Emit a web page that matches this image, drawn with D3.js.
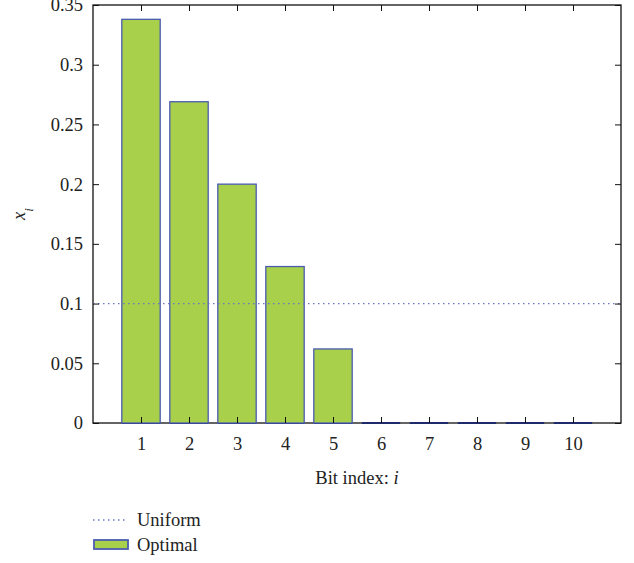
<!DOCTYPE html>
<html><head><meta charset="utf-8">
<script src="https://cdn.jsdelivr.net/npm/d3@7"></script>
<style>body{margin:0;background:#fff}text{font-family:"Liberation Serif","DejaVu Serif",serif;fill:#222}</style>
</head><body>
<script>
const bitIndex = [1,2,3,4,5,6,7,8,9,10];
const optimal = [0.338,0.269,0.2,0.131,0.062,0,0,0,0,0];
const uniform = [0.1];
const yTicks = [0,0.05,0.1,0.15,0.2,0.25,0.3,0.35];
const yTickLabels = ["0","0.05","0.1","0.15","0.2","0.25","0.3","0.35"];

const W=634,H=563;
const svg=d3.select("body").append("svg").attr("width",W).attr("height",H);
const L=93,R=621,T=5,B=423;
const x=d3.scaleLinear().domain([0,11]).range([L,R]);
const y=d3.scaleLinear().domain([0,0.35]).range([B,T]);
const bw=(x(1)-x(0))*0.8;
const fill="#a8d04a", stroke="#4a5cb0";
const fs="18.5px";

// frame
svg.append("rect").attr("x",L).attr("y",T).attr("width",R-L).attr("height",B-T).attr("fill","none").attr("stroke","#111").attr("stroke-width",1.3);

// bars (zero-height bars appear as a dark base line)
svg.selectAll("line.base").data(bitIndex).enter().append("line")
 .attr("x1",(d)=>x(d)-bw/2).attr("x2",(d)=>x(d)+bw/2)
 .attr("y1",y(0)).attr("y2",y(0)).attr("stroke","#1e2a6a").attr("stroke-width",2);
svg.selectAll("rect.bar").data(bitIndex.filter((d,i)=>optimal[i]>0)).enter().append("rect")
 .attr("x",(d)=>x(d)-bw/2).attr("width",bw)
 .attr("y",(d)=>y(optimal[d-1])).attr("height",(d)=>B-y(optimal[d-1]))
 .attr("fill",fill).attr("stroke",stroke).attr("stroke-width",1.3);

// uniform line
svg.append("line").attr("x1",L).attr("x2",R).attr("y1",y(uniform[0])).attr("y2",y(uniform[0]))
 .attr("stroke","#6677c4").attr("stroke-width",1.3).attr("stroke-dasharray","1.5,3.5");

// axes
const yAxisL=d3.axisLeft(y).tickValues(yTicks).tickFormat((d,i)=>yTickLabels[i]).tickSizeInner(-6).tickSizeOuter(0).tickPadding(10);
const gy=svg.append("g").attr("transform",`translate(${L},0)`).call(yAxisL);
gy.select(".domain").remove();
gy.selectAll("text").style("font-size",fs).attr("fill","#222");
gy.selectAll("line").attr("stroke","#111");
const yAxisR=d3.axisRight(y).tickValues(yTicks).tickSizeInner(-6).tickSizeOuter(0).tickFormat("");
const gyr=svg.append("g").attr("transform",`translate(${R},0)`).call(yAxisR);
gyr.select(".domain").remove();gyr.selectAll("line").attr("stroke","#111");

const xAxisB=d3.axisBottom(x).tickValues(bitIndex).tickFormat(d3.format("d")).tickSizeInner(-6).tickSizeOuter(0).tickPadding(14);
const gx=svg.append("g").attr("transform",`translate(0,${B})`).call(xAxisB);
gx.select(".domain").remove();
gx.selectAll("text").style("font-size",fs).attr("fill","#222");
gx.selectAll("line").attr("stroke","#111");
const xAxisT=d3.axisTop(x).tickValues(bitIndex).tickSizeInner(-6).tickSizeOuter(0).tickFormat("");
const gxt=svg.append("g").attr("transform",`translate(0,${T})`).call(xAxisT);
gxt.select(".domain").remove();gxt.selectAll("line").attr("stroke","#111");

// labels
const xl=svg.append("text").attr("x",(L+R)/2).attr("y",484).attr("text-anchor","middle").style("font-size",fs);
xl.append("tspan").text("Bit index: ");
xl.append("tspan").attr("font-style","italic").text("i");
const yl=svg.append("text").attr("transform","translate(25,214) rotate(-90)").attr("text-anchor","middle").style("font-size",fs);
yl.append("tspan").attr("font-style","italic").text("x");
yl.append("tspan").attr("font-style","italic").attr("baseline-shift","sub").style("font-size","13px").text("i");

// legend
svg.append("line").attr("x1",93).attr("x2",128).attr("y1",520).attr("y2",520).attr("stroke","#6677c4").attr("stroke-width",1.3).attr("stroke-dasharray","1.5,3.5");
svg.append("text").attr("x",137).attr("y",526).style("font-size",fs).text("Uniform");
svg.append("rect").attr("x",94).attr("y",540).attr("width",34).attr("height",9).attr("fill",fill).attr("stroke",stroke).attr("stroke-width",1.8);
svg.append("text").attr("x",137).attr("y",551).style("font-size",fs).text("Optimal");
</script>
</body></html>
